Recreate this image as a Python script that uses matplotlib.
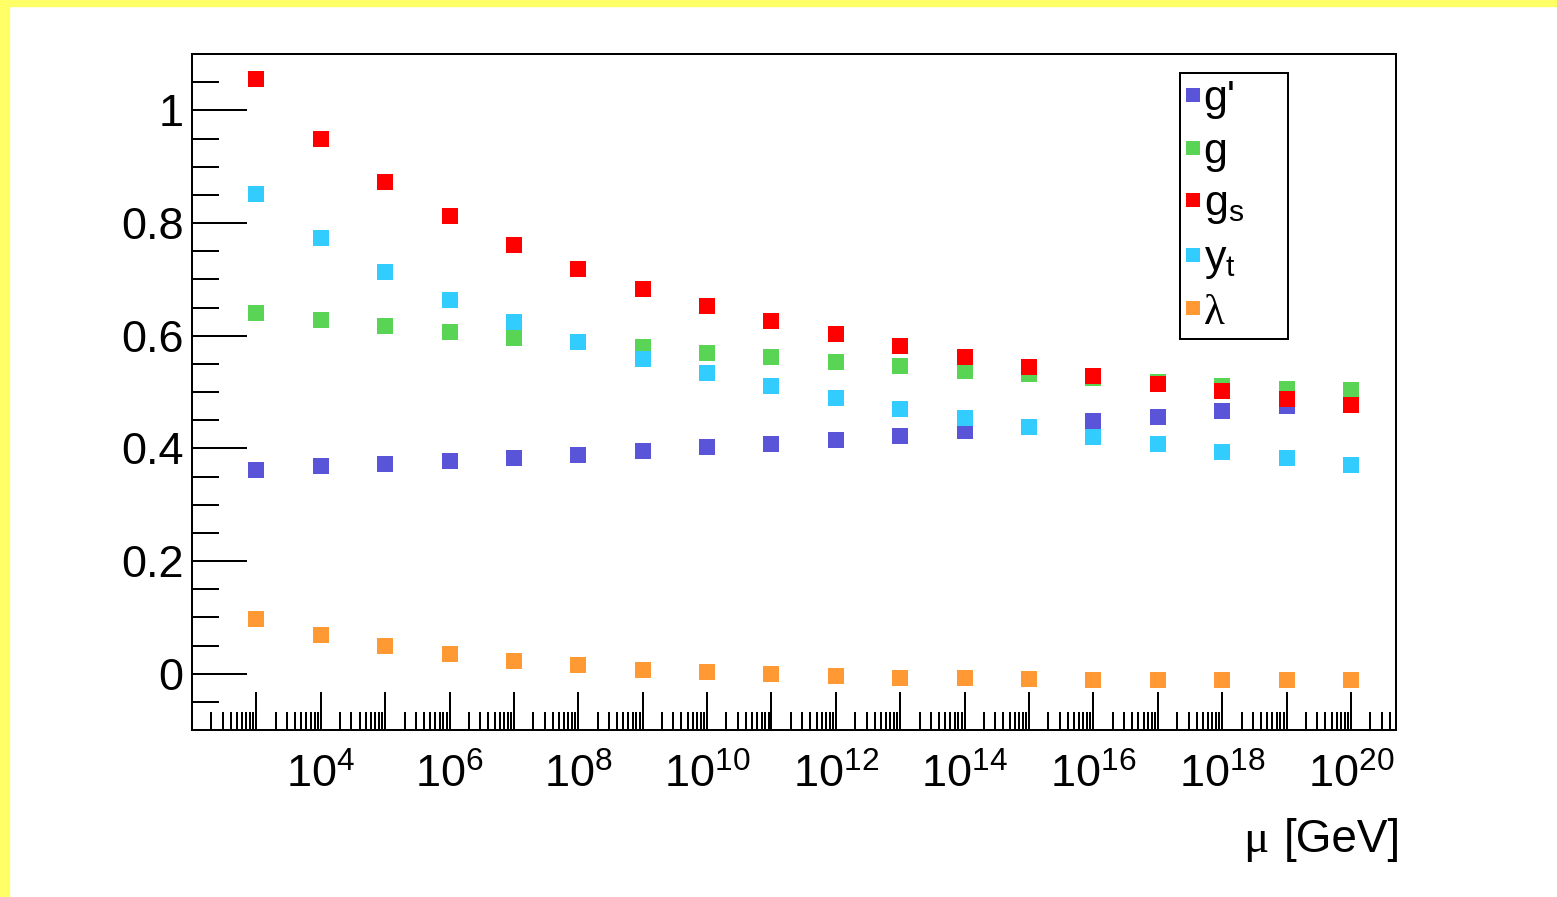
import numpy as np
import matplotlib.pyplot as plt
from matplotlib.patches import Rectangle
from matplotlib.ticker import LogLocator, FuncFormatter, MultipleLocator, NullFormatter

plt.rcParams['font.family'] = ['Liberation Sans', 'DejaVu Sans']
plt.rcParams['mathtext.fontset'] = 'custom'
plt.rcParams['mathtext.rm'] = 'Liberation Sans'
plt.rcParams['mathtext.it'] = 'Liberation Sans:italic'
plt.rcParams['mathtext.bf'] = 'Liberation Sans:bold'


# DATA #

mu = 10.0 ** np.arange(3, 21)   # 1e3 ... 1e20 GeV

g_prime = [0.362, 0.368, 0.372, 0.377, 0.383, 0.389, 0.395, 0.402, 0.408,
           0.415, 0.422, 0.430, 0.437, 0.448, 0.456, 0.466, 0.476, 0.484]
g_weak = [0.640, 0.628, 0.617, 0.607, 0.596, 0.588, 0.579, 0.570, 0.562,
          0.554, 0.547, 0.537, 0.532, 0.525, 0.518, 0.511, 0.505, 0.503]
g_s = [1.056, 0.950, 0.872, 0.812, 0.761, 0.718, 0.683, 0.653, 0.626,
       0.603, 0.582, 0.562, 0.545, 0.528, 0.514, 0.502, 0.488, 0.477]
y_t = [0.852, 0.773, 0.713, 0.664, 0.624, 0.589, 0.559, 0.533, 0.511,
       0.489, 0.470, 0.454, 0.437, 0.421, 0.408, 0.394, 0.382, 0.370]
lam = [0.097, 0.069, 0.049, 0.035, 0.023, 0.015, 0.007, 0.003, -0.001,
       -0.005, -0.007, -0.008, -0.010, -0.011, -0.011, -0.011, -0.011, -0.011]

series = [
    (g_prime, "g'", '#5954d8'),
    (g_weak, 'g', '#59d454'),
    (g_s, r'g$_{\mathrm{s}}$', '#ff0000'),
    (y_t, r'y$_{\mathrm{t}}$', '#33ccff'),
    (lam, 'λ', '#ff9933'),
]


# FIGURE SETUP #

W, H = 1557, 897
fig = plt.figure(figsize=(W / 100, H / 100), dpi=100)
fig.patch.set_facecolor('white')

# yellow frame strips (top and left)
fig.patches.append(Rectangle((0, 1 - 6 / H), 1, 6 / H, transform=fig.transFigure,
                             color='#ffff66', zorder=0))
fig.patches.append(Rectangle((0, 0), 9 / W, 1, transform=fig.transFigure,
                             color='#ffff66', zorder=0))

ax = fig.add_axes([192 / W, 1 - 730 / H, (1396 - 192) / W, (730 - 54) / H])

for vals, lab, col in series:
    ax.plot(mu, vals, linestyle='none', marker='s', markersize=12.2,
            markeredgewidth=0, color=col, label=lab)

ax.set_xscale('log')
ax.set_xlim(1e2, 5e20)
ax.set_ylim(-0.1, 1.1)

ax.xaxis.set_major_locator(LogLocator(base=10, numticks=40))
ax.xaxis.set_minor_locator(LogLocator(base=10, subs=np.arange(2, 10), numticks=400))
ax.xaxis.set_minor_formatter(NullFormatter())


def fmt_x(v, pos):
    e = int(round(np.log10(v)))
    if e < 4 or e % 2:
        return ''
    return r'$\mathrm{10^{%d}}$' % e


ax.xaxis.set_major_formatter(FuncFormatter(fmt_x))
ax.yaxis.set_major_locator(MultipleLocator(0.2))
ax.yaxis.set_minor_locator(MultipleLocator(0.05))
ax.yaxis.set_major_formatter(FuncFormatter(lambda v, p: '%g' % round(v, 2)))

lw = 1.44
ax.tick_params(axis='x', which='major', direction='in', length=27.4, width=lw,
               labelsize=32.5, pad=17, colors='black')
ax.tick_params(axis='x', which='minor', direction='in', length=13, width=lw)
ax.tick_params(axis='y', which='major', direction='in', length=39.6, width=lw,
               labelsize=32.5, pad=6)
ax.tick_params(axis='y', which='minor', direction='in', length=19.4, width=lw)
for sp in ax.spines.values():
    sp.set_linewidth(lw)

# axis title, right aligned under the axis
t_unit = fig.text(1401 / W, 1 - 862 / H, '[GeV]', ha='right', va='bottom', fontsize=33)
ax.annotate('μ', xy=(0, 0), xycoords=t_unit, xytext=(-11, 0), textcoords='offset points',
            ha='right', va='bottom', fontsize=34, family=['Liberation Serif', 'DejaVu Serif'],
            annotation_clip=False)

leg = ax.legend(loc='upper left',
                bbox_to_anchor=(1180 / W, 1 - 334 / H, (1288 - 1180) / W, (334 - 73) / H),
                bbox_transform=fig.transFigure, mode='expand', fontsize=31, frameon=True,
                fancybox=False, shadow=False, edgecolor='black', framealpha=1,
                borderpad=0.15, handlelength=0.3, handletextpad=0.1,
                labelspacing=0.29, borderaxespad=0, markerscale=0.85, numpoints=1)
leg.get_frame().set_linewidth(lw)
leg.get_texts()[4].set_fontfamily(['Liberation Serif', 'DejaVu Serif'])

fig.savefig('out.png', dpi=100, facecolor='white')
